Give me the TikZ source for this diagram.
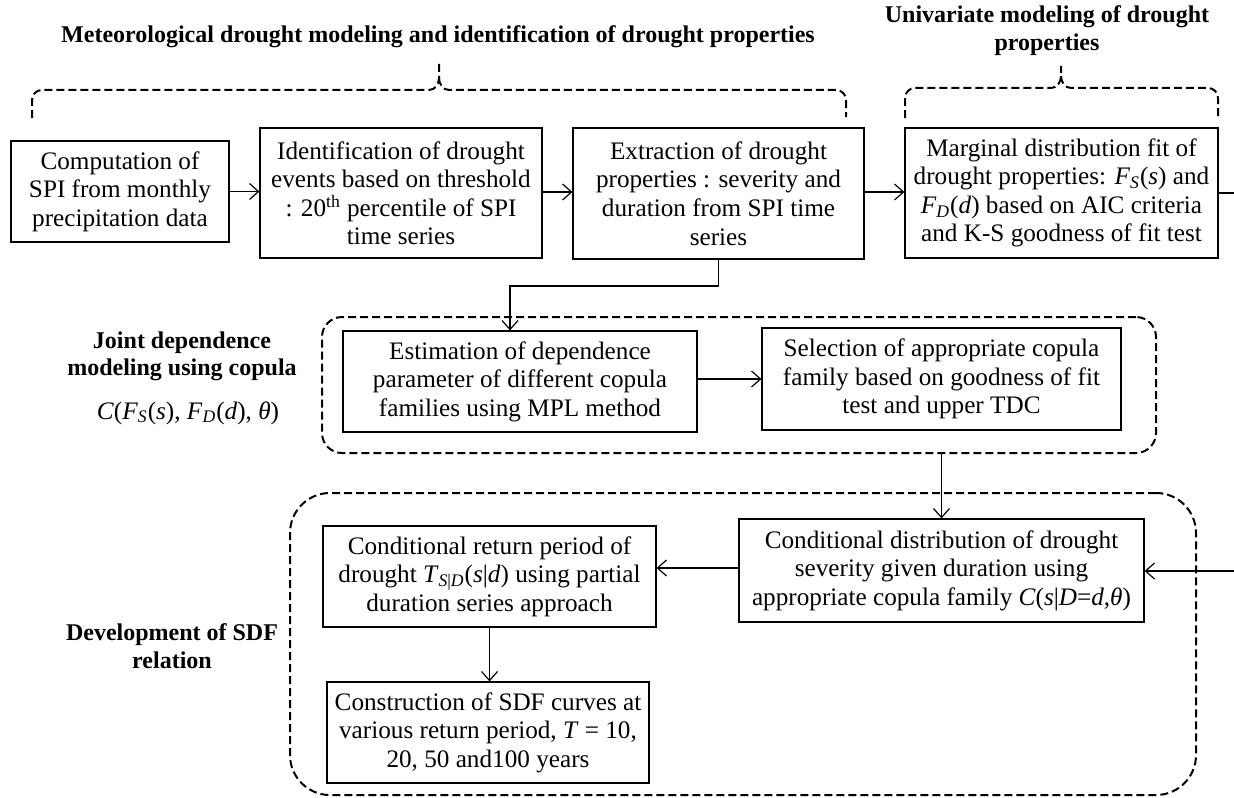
\documentclass[tikz,border=0pt]{standalone}
\usepackage{fontspec}
\setmainfont{Liberation Serif}
\usetikzlibrary{arrows.meta}

\tikzset{
	procbox/.style={draw, line width=0.6pt, align=center, inner sep=0pt, font=\fontsize{12.6}{14.25}\selectfont},
	groupbox/.style={draw, line width=1pt, dash pattern=on 4pt off 2pt, rounded corners=#1},
	groupbox/.default=10pt,
	brace/.style={line width=1pt, dash pattern=on 4pt off 2pt},
	heading/.style={align=center, font=\bfseries\fontsize{12}{14}\selectfont},
	flow/.style={-{Straight Barb[length=4.5pt,width=8pt]}, line width=0.6pt},
}
\newcommand{\vi}[1]{\textit{#1}}

\begin{document}
\begin{tikzpicture}[x=0.5pt,y=-0.5pt]
			\useasboundingbox (0,0) rectangle (1234,797);
			
			% dashed groups
			\node[groupbox=10pt, minimum width=417pt, minimum height=68pt] (grpA) at (739,385) {};
			\node[groupbox=20pt, minimum width=453pt, minimum height=151pt] (grpB) at (743,644) {};
			
			% headings
			\node[heading] (hMet) at (438,37) {Meteorological drought modeling and identification of drought properties};
			\node[heading] (hUni) at (1047,31) {Univariate modeling of drought\\properties};
			\node[heading, font=\bfseries\fontsize{12}{13.5}\selectfont] (hJoint) at (182,356) {Joint dependence\\modeling using copula};
			\node[font=\fontsize{12.6}{14}\selectfont] (hForm) at (188,413) {\vi{C}(\vi{F}\textsubscript{\vi{S}}(\vi{s}), \vi{F}\textsubscript{\vi{D}}(\vi{d}), \vi{θ})};
			\node[heading] (hSDF) at (172,646) {Development of SDF\\relation};
			
			% braces
			\draw[brace] (32,118) -- (32,100) to[out=90,in=180] (42,90) -- (429,90) to[out=0,in=-90] (439,78) -- (439,63);
			\draw[brace] (439,78) to[out=-90,in=180] (449,90) -- (836,90) to[out=0,in=90] (846,100) -- (846,117);
			\draw[brace] (905,118) -- (905,98) to[out=90,in=180] (915,88) -- (1051,88) to[out=0,in=-90] (1061,76) -- (1061,66);
			\draw[brace] (1061,76) to[out=-90,in=180] (1071,88) -- (1208,88) to[out=0,in=90] (1218,98) -- (1218,118);
			
			% process boxes
			\node[procbox, minimum width=109pt, minimum height=50.5pt] (b1) at (120,191.5) {Computation of\\SPI from monthly\\precipitation data};
			\node[procbox, minimum width=141pt, minimum height=65pt] (b2) at (401,193) {Identification of drought\\events based on threshold\\: 20\textsuperscript{th} percentile of SPI\\time series};
			\node[procbox, minimum width=145.5pt, minimum height=65.5pt] (b3) at (718.5,193.5) {Extraction of drought\\properties : severity and\\duration from SPI time\\series};
			\node[procbox, minimum width=156.5pt, minimum height=65pt] (b4) at (1061.5,193) {Marginal distribution fit of\\drought properties: \vi{F}\textsubscript{\vi{S}}(\vi{s}) and\\\vi{F}\textsubscript{\vi{D}}(\vi{d}) based on AIC criteria\\and K-S goodness of fit test};
			\node[procbox, minimum width=177pt, minimum height=50.5pt] (b5) at (520,381.5) {Estimation of dependence\\parameter of different copula\\families using MPL method};
			\node[procbox, minimum width=179.5pt, minimum height=51pt] (b6) at (941.5,379) {Selection of appropriate copula\\family based on goodness of fit\\test and upper TDC};
			\node[procbox, minimum width=202.5pt, minimum height=51.5pt] (b7) at (941.5,570.5) {Conditional distribution of drought\\severity given duration using\\appropriate copula family \vi{C}(\vi{s}|\vi{D}=\vi{d},\vi{θ})};
			\node[procbox, minimum width=166.5pt, minimum height=50.5pt] (b8) at (489.5,576.5) {Conditional return period of\\drought \vi{T}\textsubscript{\vi{S}|\vi{D}}(\vi{s}|\vi{d}) using partial\\duration series approach};
			\node[procbox, minimum width=161pt, minimum height=50.5pt] (b9) at (488,732.5) {Construction of SDF curves at\\various return period, \vi{T} = 10,\\20, 50 and100 years};
			
			% connectors
			\coordinate (outR) at (1234,193);
			\coordinate (inR) at (1234,571);
			\coordinate (bend) at (510,286);
			\draw[flow] (b1.east) -- (b1.east -| b2.west);
			\draw[flow] (b2.east |- 0,192) -- (b3.west |- 0,192);
			\draw[flow] (b3.east |- 0,192) -- (b4.west |- 0,192);
			\draw[line width=0.6pt] (b4.east) -- (outR);
			\draw[flow] (b3.south) |- (bend) -- (bend |- b5.north);
			\draw[flow] (b5.east |- 0,379) -- (b6.west |- 0,379);
			\draw[flow] (grpA.south -| b7.north) -- (b7.north);
			\draw[flow] (inR) -- (inR -| b7.east);
			\draw[flow] (b7.west |- 0,568) -- (b8.east |- 0,568);
			\draw[flow] (b8.south) -- (b8.south |- b9.north);
		\end{tikzpicture}
\end{document}
